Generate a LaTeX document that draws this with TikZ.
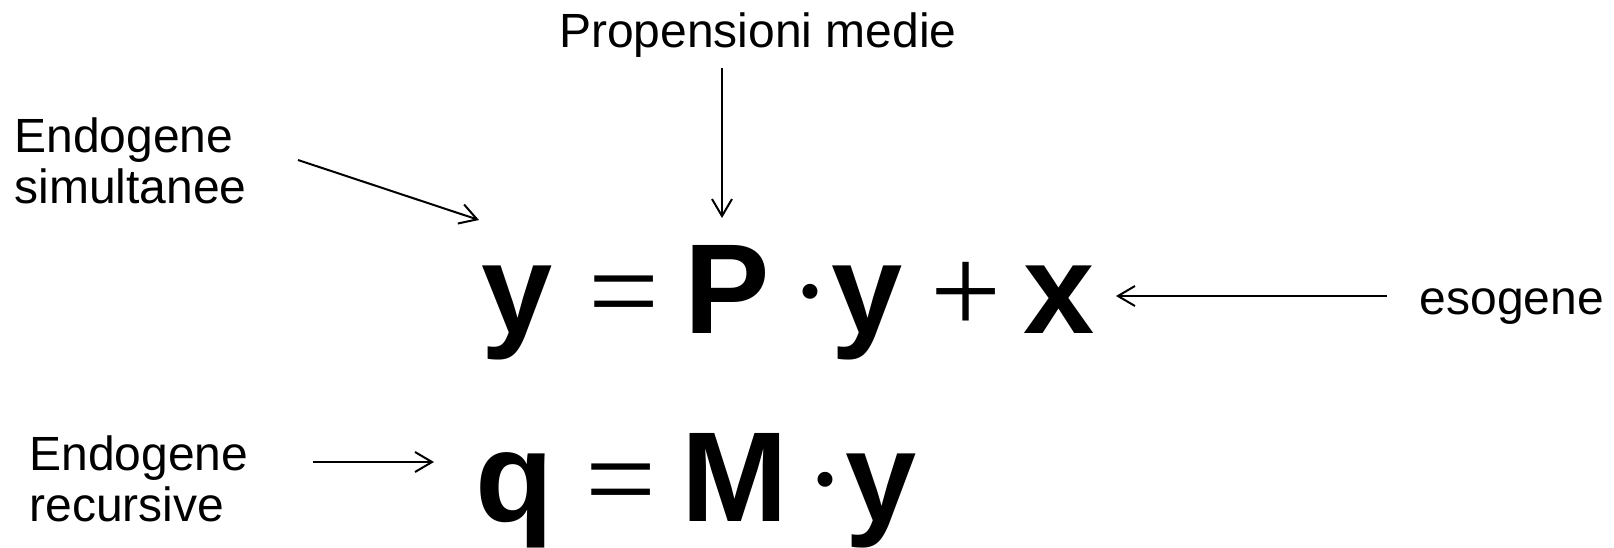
\documentclass[tikz,border=0pt]{standalone}
\usepackage{fontspec}
\setmainfont{Liberation Sans}
\newfontfamily\opfont{Liberation Serif}
\usetikzlibrary{arrows.meta}
\begin{document}
\begin{tikzpicture}[x=0.5pt,y=-0.5pt,
  lbl/.style={inner sep=0pt, font=\fontsize{24}{25.5}\selectfont},
  var/.style={inner sep=0pt, anchor=base, font=\fontsize{64}{70}\selectfont\bfseries},
  op/.style={inner sep=0pt, anchor=base, font=\fontsize{63}{70}\selectfont\opfont},
  arr/.style={-{Straight Barb[length=8.5pt,width=10pt]}, line width=1pt}]
\useasboundingbox (0,0) rectangle (1614,547);
% labels (base anchor = baseline of the last line)
\node[lbl, anchor=base] (prop) at (758,47) {Propensioni medie};
\node[lbl, anchor=base west, align=left] (sim) at (14,203) {Endogene\\simultanee};
\node[lbl, anchor=base west, align=left] (rec) at (29,521) {Endogene\\recursive};
\node[lbl, anchor=base] (eso) at (1512,314) {esogene};
% equation 1
\node[var] (y1) at (517,333) {y};
\node[op] (eq1) at (624,333) {=};
\node[var] (P) at (727,333) {P};
\node[op] (dot1) at (810,333) {·};
\node[var] (y2) at (867,333) {y};
\node[op] (plus) at (966,333) {+};
\node[var] (x1) at (1059,333) {x};
% equation 2
\node[var] (q) at (515,521) {q};
\node[op] (eq2) at (621,521) {=};
\node[var] (M) at (735,521) {M};
\node[op] (dot2) at (825,521) {·};
\node[var] (y3) at (881,521) {y};
% arrows
\coordinate (pa) at (722,68);
\coordinate (pb) at (722,218);
\coordinate (sa) at (298,160);
\coordinate (sb) at (479,220);
\coordinate (ra) at (313,462);
\coordinate (rb) at (434,462);
\coordinate (ea) at (1387,296);
\coordinate (eb) at (1116,296);
\draw[arr] (pa) -- (pb);
\draw[arr] (sa) -- (sb);
\draw[arr] (ra) -- (rb);
\draw[arr] (ea) -- (eb);
\end{tikzpicture}
\end{document}
